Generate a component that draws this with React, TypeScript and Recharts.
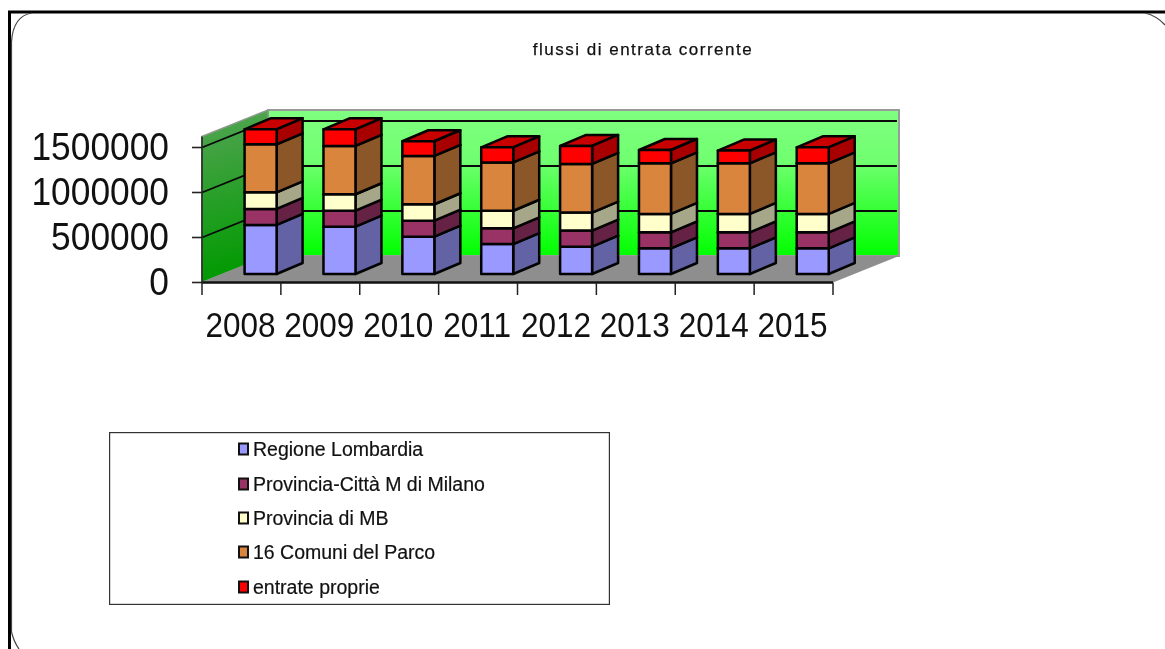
import React from "react";
import { BarChart, Bar, XAxis, YAxis, CartesianGrid, Legend } from "recharts";

const years = ["2008", "2009", "2010", "2011", "2012", "2013", "2014", "2015"];
const regione = [545000, 526000, 415000, 333000, 304000, 285000, 285000, 285000];
const provincia = [178000, 178000, 178000, 174000, 178000, 178000, 178000, 178000];
const provinciaMB = [185000, 182000, 182000, 196000, 200000, 204000, 204000, 204000];
const comuni = [533000, 537000, 537000, 537000, 541000, 563000, 563000, 563000];
const proprie = [167000, 185000, 163000, 167000, 200000, 148000, 141000, 178000];
const yTicks = [0, 500000, 1000000, 1500000];
const gridValues = [500000, 1000000, 1500000];

const names = ["Regione Lombardia", "Provincia-Città M di Milano", "Provincia di MB", "16 Comuni del Parco", "entrate proprie"];
const keys = ["regione", "provincia", "provinciaMB", "comuni", "proprie"];
const fronts = ["#9999FF", "#993366", "#FFFFCC", "#D9853E", "#FF0000"];
const sides = ["#6262A4", "#662244", "#A6A688", "#8B5628", "#A80000"];
const tops = ["#7A7ACC", "#7A2952", "#CCCCA3", "#AD6A32", "#C80000"];

const rows = years.map((year, i) => ({
  year,
  regione: regione[i],
  provincia: provincia[i],
  provinciaMB: provinciaMB[i],
  comuni: comuni[i],
  proprie: proprie[i],
}));

const W = 1165;
const H = 649;
const LEFT = 202;
const RIGHT = 833;
const TOP = 136.5;
const BOTTOM = 282.5;
const DX = 66;
const DY = 26.5;
const STEP = (RIGHT - LEFT) / years.length;
const FONT = "'Liberation Sans', Arial, sans-serif";
const SHIFT_X = 19.6;
const SHIFT_Y = 8.5;
const SIDE_X = 26;
const SIDE_Y = 11;

function box(index: number) {
  return function Box(p: any) {
    const x = p.x + SHIFT_X;
    const y = p.y - SHIFT_Y;
    const w = p.width;
    const h = p.height;
    const s = { stroke: "#030303", strokeWidth: 2.5, strokeLinejoin: "round" as const };
    return (
      <g>
        <polygon points={`${x},${y} ${x + SIDE_X},${y - SIDE_Y} ${x + w + SIDE_X},${y - SIDE_Y} ${x + w},${y}`} fill={tops[index]} {...s} />
        <polygon points={`${x + w},${y} ${x + w + SIDE_X},${y - SIDE_Y} ${x + w + SIDE_X},${y + h - SIDE_Y} ${x + w},${y + h}`} fill={sides[index]} {...s} />
        <rect x={x} y={y} width={w} height={h} fill={fronts[index]} {...s} />
      </g>
    );
  };
}

function gridLine(p: any) {
  const { x1, y1, x2, key } = p;
  return (
    <g key={key}>
      <line x1={x1} y1={y1} x2={x1 + DX} y2={y1 - DY} stroke="#0a0a0a" strokeWidth={1.8} />
      <line x1={x1 + DX} y1={y1 - DY} x2={x2 + DX - 2} y2={y1 - DY} stroke="#0a0a0a" strokeWidth={2.2} />
    </g>
  );
}

function yTick(p: any) {
  return (
    <g transform={`translate(169,${p.y - 1}) scale(0.93,1)`}>
      <text textAnchor="end" dy="0.36em" fontSize={38} fontFamily={FONT} fill="#111">
        {p.payload.value}
      </text>
    </g>
  );
}

function xTick(p: any) {
  const last = p.index === years.length - 1;
  return (
    <g>
      <line x1={p.x - STEP / 2} y1={p.y} x2={p.x - STEP / 2} y2={p.y + 12.5} stroke="#222" strokeWidth={1.5} />
      {last && <line x1={p.x + STEP / 2} y1={p.y} x2={p.x + STEP / 2} y2={p.y + 12.5} stroke="#222" strokeWidth={1.5} />}
      <g transform={`translate(${p.x - 1},${p.y + 54}) scale(0.875,1)`}>
        <text textAnchor="middle" fontSize={36} fontFamily={FONT} fill="#111">
          {p.payload.value}
        </text>
      </g>
    </g>
  );
}

function legendBox(p: any) {
  const rowsY = [17, 52, 86, 120, 155];
  return (
    <svg width={501} height={173} style={{ display: "block" }}>
      <rect x={0.5} y={0.5} width={500} height={172} fill="#fff" stroke="#333" strokeWidth={1.4} />
      {(p.payload || []).map((e: any, i: number) => (
        <g key={e.value}>
          <rect x={130} y={rowsY[i] - 5.5} width={9} height={11} fill={e.color} stroke="#111" strokeWidth={2} />
          <text x={144} y={rowsY[i]} dy="0.36em" fontSize={19.5} fontFamily={FONT} fill="#111" stroke="#111" strokeWidth={0.2}>
            {e.value}
          </text>
        </g>
      ))}
    </svg>
  );
}

export default function App() {
  return (
    <div style={{ position: "absolute", left: 0, top: 0, width: W, height: H, overflow: "hidden", background: "#fff", filter: "blur(0.5px)" }}>
      <svg width={W} height={H} style={{ position: "absolute", left: 0, top: 0 }}>
        <defs>
          <linearGradient id="backWall" x1="0" y1="0" x2="0" y2="1">
            <stop offset="0" stopColor="#80FF80" />
            <stop offset="0.35" stopColor="#70FF70" />
            <stop offset="1" stopColor="#00FF00" />
          </linearGradient>
          <linearGradient id="sideWall" x1="0" y1="0" x2="0.1" y2="1">
            <stop offset="0" stopColor="#55A555" />
            <stop offset="1" stopColor="#009A00" />
          </linearGradient>
        </defs>
        <polygon points={`${LEFT + DX},${TOP - DY} ${RIGHT + DX},${TOP - DY} ${RIGHT + DX},${BOTTOM - DY} ${LEFT + DX},${BOTTOM - DY}`} fill="url(#backWall)" stroke="#9a9a9a" strokeWidth={2} />
        <polygon points={`${LEFT},${TOP} ${LEFT + DX},${TOP - DY} ${LEFT + DX},${BOTTOM - DY} ${LEFT},${BOTTOM}`} fill="url(#sideWall)" stroke="#8a9a8a" strokeWidth={1.5} />
        <polygon points={`${LEFT},${BOTTOM} ${LEFT + DX},${BOTTOM - DY} ${RIGHT + DX},${BOTTOM - DY} ${RIGHT},${BOTTOM}`} fill="#8E8E8E" />
        <line x1={8} y1={12} x2={W} y2={12} stroke="#000" strokeWidth={3} />
        <line x1={9.5} y1={11} x2={9.5} y2={H} stroke="#000" strokeWidth={3} />
        <path d={`M11.5 632 L11.5 42 Q13 16 32 13`} fill="none" stroke="#444" strokeWidth={1.2} />
        <path d={`M1145 13 Q1157 16 1165 25`} fill="none" stroke="#444" strokeWidth={1.2} />
        <path d={`M11.5 632 Q14 642 19 ${H}`} fill="none" stroke="#444" strokeWidth={1.2} />
        <text x={643} y={55} textAnchor="middle" fontSize={17} letterSpacing={1.5} fontFamily={FONT} fill="#111" stroke="#111" strokeWidth={0.25}>
          flussi di entrata corrente
        </text>
      </svg>
      <div style={{ position: "absolute", left: 0, top: 0 }}>
        <BarChart
          width={W}
          height={H}
          data={rows}
          barSize={32}
          margin={{ left: LEFT - 80, right: W - RIGHT, top: TOP, bottom: H - BOTTOM - 60 }}
        >
          <CartesianGrid horizontal={gridLine} vertical={false} horizontalValues={gridValues} />
          <XAxis dataKey="year" height={60} tickLine={false} tickSize={0} tickMargin={0} tick={xTick} stroke="#111" strokeWidth={2.4} interval={0} />
          <YAxis width={80} domain={[0, 1622222]} ticks={yTicks} tickSize={10} tick={yTick} stroke="#222" strokeWidth={1.6} />
          {keys.map((k, i) => (
            <Bar key={k} dataKey={k} name={names[i]} stackId="a" fill={fronts[i]} shape={box(i)} isAnimationActive={false} />
          ))}
          <Legend
            layout="vertical"
            align="center"
            verticalAlign="middle"
            itemSorter={null as any}
            content={legendBox}
            wrapperStyle={{ left: 109, top: 432, width: 501, height: 173, right: "auto", bottom: "auto" }}
          />
        </BarChart>
      </div>
    </div>
  );
}
